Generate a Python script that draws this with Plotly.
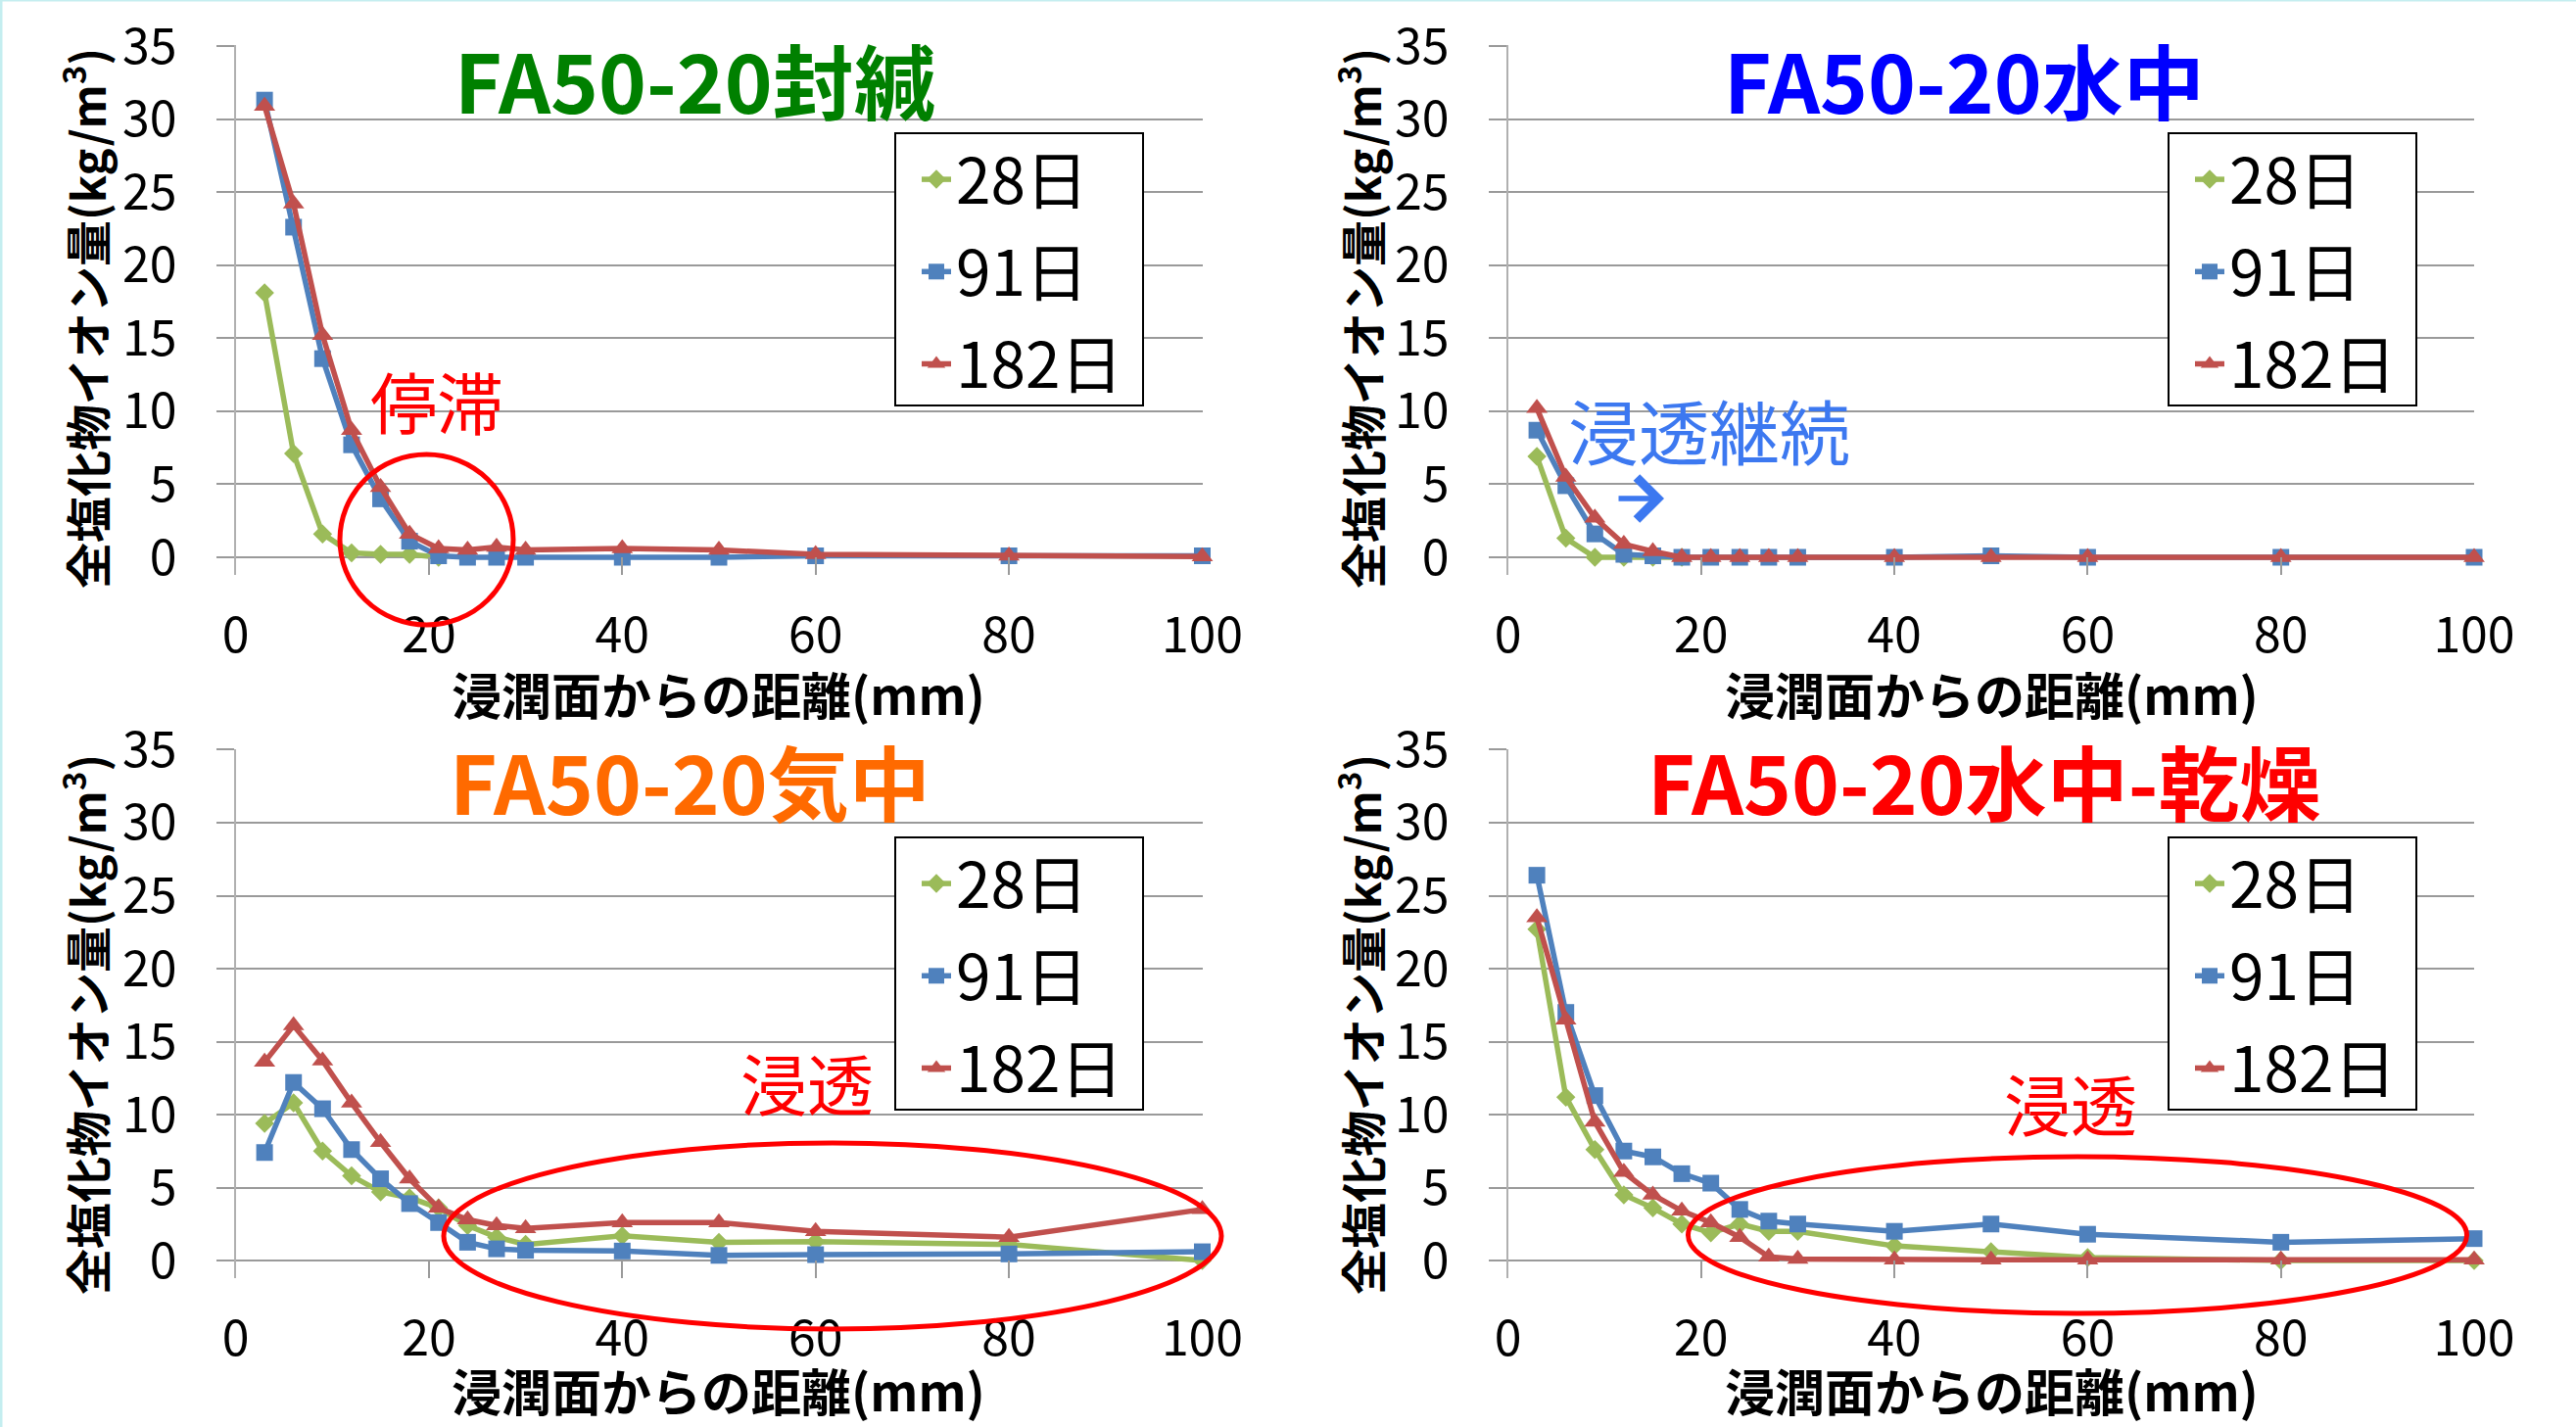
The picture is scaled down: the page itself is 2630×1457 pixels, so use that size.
import plotly.graph_objects as go

W, H = 2630, 1457
FONT = "Noto Sans CJK JP"

# Depth from the exposed surface (mm)
depth = [3, 6, 9, 12, 15, 18, 21, 24, 27, 30, 40, 50, 60, 80, 100]

# FA50-20 sealed curing
seal_28_x = [3, 6, 9, 12, 15, 18, 21]
seal_28 = [18.1, 7.1, 1.6, 0.3, 0.2, 0.2, 0.0]
seal_91 = [31.3, 22.6, 13.6, 7.7, 4.0, 1.1, 0.1, 0.0, 0.0, 0.0, 0.0, 0.0, 0.1, 0.1, 0.1]
seal_182 = [30.9, 24.2, 15.2, 8.7, 4.8, 1.6, 0.6, 0.5, 0.7, 0.5, 0.6, 0.5, 0.2, 0.1, 0.05]

# FA50-20 water curing
water_28_x = [3, 6, 9, 12, 15, 18]
water_28 = [6.9, 1.3, 0.0, 0.0, 0.0, 0.0]
water_91 = [8.7, 4.9, 1.6, 0.2, 0.1, 0.0, 0.0, 0.0, 0.0, 0.0, 0.0, 0.1, 0.0, 0.0, 0.0]
water_182 = [10.2, 5.5, 2.7, 0.9, 0.4, 0.0, 0.0, 0.0, 0.0, 0.0, 0.0, 0.0, 0.0, 0.0, 0.0]

# FA50-20 air curing
air_28 = [9.4, 10.8, 7.5, 5.8, 4.7, 4.3, 3.6, 2.4, 1.6, 1.1, 1.7, 1.25, 1.3, 1.1, 0.0]
air_91 = [7.4, 12.2, 10.4, 7.6, 5.6, 3.9, 2.6, 1.25, 0.8, 0.7, 0.65, 0.35, 0.4, 0.45, 0.6]
air_182 = [13.6, 16.1, 13.7, 10.8, 8.1, 5.6, 3.6, 2.8, 2.4, 2.2, 2.6, 2.6, 2.0, 1.6, 3.5]

# FA50-20 water then dry curing
wd_28 = [22.7, 11.2, 7.6, 4.5, 3.6, 2.5, 1.9, 2.5, 2.0, 2.0, 1.0, 0.6, 0.2, 0.0, 0.0]
wd_91 = [26.4, 17.0, 11.3, 7.5, 7.1, 5.95, 5.3, 3.5, 2.7, 2.5, 2.0, 2.5, 1.8, 1.25, 1.5]
wd_182 = [23.5, 16.5, 9.5, 6.05, 4.5, 3.4, 2.6, 1.6, 0.25, 0.1, 0.05, 0.05, 0.05, 0.05, 0.05]

age_names = ["28日", "91日", "182日"]
x_ticks = [0, 20, 40, 60, 80, 100]
y_ticks = [0, 5, 10, 15, 20, 25, 30, 35]

titles = ["FA50-20封緘", "FA50-20水中", "FA50-20気中", "FA50-20水中-乾燥"]
title_colors = ["#008000", "#0000FF", "#FF6A00", "#FF0000"]
y_title = "全塩化物イオン量(kg/m<sup>3</sup>)"
x_title = "浸潤面からの距離(mm)"

GREEN, BLUE, RED = "#9BBB59", "#4F81BD", "#C0504D"
NOTE_BLUE = "#3C78F0"
Y_MIN, Y_MAX = -1.2, 35.05


def fx(p):
    return p / W


def fy(p):
    return 1 - p / H


# panel frames in pixels: left (x=0), right (x=100), y of value 0, px per unit
panels = [
    dict(l=240.5, r=1227.5, zero=569.0, unit=14.914),
    dict(l=1539.5, r=2526.0, zero=569.0, unit=14.914),
    dict(l=240.5, r=1227.5, zero=1287.0, unit=14.9),
    dict(l=1539.5, r=2526.0, zero=1287.0, unit=14.9),
]

series = [
    (seal_28_x, seal_28, seal_91, seal_182),
    (water_28_x, water_28, water_91, water_182),
    (depth, air_28, air_91, air_182),
    (depth, wd_28, wd_91, wd_182),
]

fig = go.Figure()
layout = {}

for i, (p, (x28, y28, y91, y182)) in enumerate(zip(panels, series)):
    n = "" if i == 0 else str(i + 1)
    xa, ya = "x" + n, "y" + n
    leg = "legend" + n
    top_px = p["zero"] - Y_MAX * p["unit"]
    bot_px = p["zero"] - Y_MIN * p["unit"]

    for name, xs, ys, color, sym, size in [
        (age_names[0], x28, y28, GREEN, "diamond", 15),
        (age_names[1], depth, y91, BLUE, "square", 17),
        (age_names[2], depth, y182, RED, "triangle-up", 19),
    ]:
        fig.add_trace(go.Scatter(
            x=xs, y=ys, name=name, mode="lines+markers",
            line=dict(color=color, width=5.5),
            marker=dict(symbol=sym, size=size, color=color),
            xaxis=xa, yaxis=ya, legend=leg, legendgroup=f"{i}-{name}",
            cliponaxis=False,
        ))

    layout["xaxis" + n] = dict(
        domain=[fx(p["l"]), fx(p["r"])], anchor=ya, range=[0, 100],
        tickvals=x_ticks, ticks="inside", ticklen=18, tickwidth=2,
        tickcolor="#9a9a9a", showgrid=False, showline=False, zeroline=False,
        tickfont=dict(size=50, color="black", family=FONT),
        ticklabelstandoff=28, fixedrange=True, automargin=False,
    )
    layout["yaxis" + n] = dict(
        domain=[fy(bot_px), fy(top_px)], anchor=xa, range=[Y_MIN, Y_MAX],
        tickvals=y_ticks, ticks="outside", ticklen=18, tickwidth=2,
        tickcolor="#9a9a9a", showgrid=True, gridcolor="#9a9a9a", gridwidth=2,
        showline=True, linecolor="#b0b0b0", linewidth=2, zeroline=False,
        tickfont=dict(size=50, color="black", family=FONT),
        ticklabelstandoff=30, fixedrange=True, automargin=False,
    )

shapes = []

# legends, one per panel, each inside a white framed box
legend_box = [(914, 136), (2214, 136), (914, 855), (2214, 855)]
for i, (lx, ly) in enumerate(legend_box):
    n = "" if i == 0 else str(i + 1)
    shapes.append(dict(
        type="rect", xref="paper", yref="paper",
        x0=fx(lx), x1=fx(lx + 253), y0=fy(ly + 278), y1=fy(ly),
        line=dict(color="black", width=2), fillcolor="white", layer="above",
    ))
    layout["legend" + n] = dict(
        x=fx(lx + 22), y=fy(ly - 1), xanchor="left", yanchor="top",
        borderwidth=0, bgcolor="rgba(0,0,0,0)",
        font=dict(size=64, color="black", family=FONT),
        tracegroupgap=8, traceorder="grouped",
    )

annotations = []
# panel titles
title_pos = [(709, 80), (2005, 80), (704, 796), (2025, 796)]
for t, c, (tx, ty) in zip(titles, title_colors, title_pos):
    annotations.append(dict(
        text=f"<b>{t}</b>", x=fx(tx), y=fy(ty), xref="paper", yref="paper",
        xanchor="center", yanchor="middle", showarrow=False,
        font=dict(size=83, color=c, family=FONT),
    ))

# axis titles
ytitle_pos = [(86, 325), (1388, 325), (86, 1046), (1388, 1046)]
xtitle_pos = [(734, 708), (2033, 708), (734, 1419), (2033, 1419)]
for (ax_, ay_), (bx, by) in zip(ytitle_pos, xtitle_pos):
    annotations.append(dict(
        text=f"<b>{y_title}</b>", x=fx(ax_), y=fy(ay_), xref="paper", yref="paper",
        xanchor="center", yanchor="middle", showarrow=False, textangle=-90,
        font=dict(size=47, color="black", family=FONT),
    ))
    annotations.append(dict(
        text=f"<b>{x_title}</b>", x=fx(bx), y=fy(by), xref="paper", yref="paper",
        xanchor="center", yanchor="middle", showarrow=False,
        font=dict(size=51, color="black", family=FONT),
    ))

# remarks on the curves
notes = [
    ("停滞", 446, 408, "#FF0000", 68),
    ("浸透継続", 1745, 437, NOTE_BLUE, 72),
    ("浸透", 824, 1104, "#FF0000", 68),
    ("浸透", 2114, 1125, "#FF0000", 68),
]
for txt, nx, ny, c, s in notes:
    annotations.append(dict(
        text=txt, x=fx(nx), y=fy(ny), xref="paper", yref="paper",
        xanchor="center", yanchor="middle", showarrow=False,
        font=dict(size=s, color=c, family=FONT),
    ))

# arrow under the "continuing penetration" remark
annotations.append(dict(
    text="", x=fx(1699), y=fy(509), ax=-48, ay=0,
    xref="paper", yref="paper", axref="pixel", ayref="pixel",
    showarrow=True, arrowhead=4, arrowsize=1.5, arrowwidth=5.5,
    arrowcolor=NOTE_BLUE, standoff=0, startstandoff=0,
))

# highlight rings
for cx, cy, rx, ry in [(435.5, 551, 88.5, 87), (850, 1262, 397, 95), (2121, 1261, 397.5, 80)]:
    shapes.append(dict(
        type="circle", xref="paper", yref="paper",
        x0=fx(cx - rx), x1=fx(cx + rx), y0=fy(cy + ry), y1=fy(cy - ry),
        line=dict(color="#FF0000", width=5), layer="above",
    ))
# thin frame on the page edge
shapes.append(dict(type="line", xref="paper", yref="paper", x0=fx(1), x1=fx(1), y0=0, y1=1,
                   line=dict(color="#C4EEF0", width=3)))
shapes.append(dict(type="line", xref="paper", yref="paper", x0=0, x1=1, y0=fy(0.5), y1=fy(0.5),
                   line=dict(color="#C4EEF0", width=2)))

fig.update_layout(
    width=W, height=H, margin=dict(l=0, r=0, t=0, b=0, pad=0, autoexpand=False),
    paper_bgcolor="white", plot_bgcolor="white",
    font=dict(family=FONT, color="black"),
    showlegend=True, annotations=annotations, shapes=shapes,
    **layout,
)

fig.write_html("out.html")
